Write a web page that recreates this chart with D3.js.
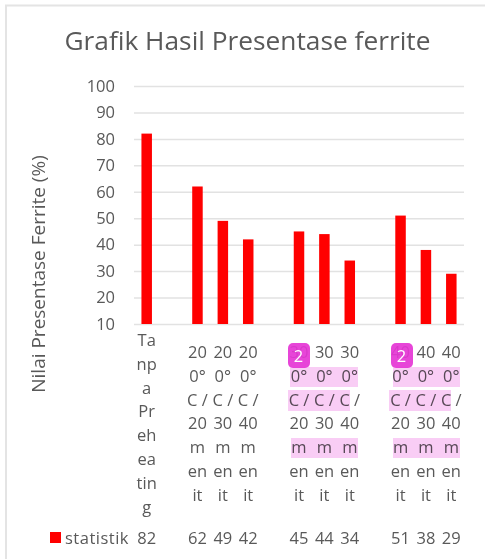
<!DOCTYPE html>
<html lang="en">
<head>
<meta charset="utf-8">
<title>Grafik Hasil Presentase ferrite</title>
<script src="https://cdn.jsdelivr.net/npm/d3@7"></script>
<style>
  html, body { margin: 0; padding: 0; background: #fff; }
  text { font-family: "Open Sans", "Noto Sans", sans-serif; fill: #595959; }
</style>
</head>
<body>
<script>
// one slot per category, blank slots are the gaps between the groups
var categories = ["a", "gap1", "b1", "b2", "b3", "gap2", "c1", "c2", "c3", "gap3", "d1", "d2", "d3"];
var values = [82, null, 62, 49, 42, null, 45, 44, 34, null, 51, 38, 29];
var labelLines = [
  ["Ta", "np", "a", "Pr", "eh", "ea", "tin", "g"],
  [],
  ["20", "0°", "C /", "20", "m", "en", "it"],
  ["20", "0°", "C /", "30", "m", "en", "it"],
  ["20", "0°", "C /", "40", "m", "en", "it"],
  [],
  ["30", "0°", "C /", "20", "m", "en", "it"],
  ["30", "0°", "C /", "30", "m", "en", "it"],
  ["30", "0°", "C /", "40", "m", "en", "it"],
  [],
  ["40", "0°", "C /", "20", "m", "en", "it"],
  ["40", "0°", "C /", "30", "m", "en", "it"],
  ["40", "0°", "C /", "40", "m", "en", "it"]
];
var yTicks = [10, 20, 30, 40, 50, 60, 70, 80, 90, 100];
var seriesName = "statistik";
var chartTitle = "Grafik Hasil Presentase ferrite";
var yTitle = "Nilai Presentase Ferrite (%)";

var w = 485, h = 559;
var svg = d3.select("body").append("svg").attr("width", w).attr("height", h).style("display", "block");

// chart frame, only top and left show in the crop
svg.append("path")
  .attr("d", "M6,559V5.5H485")
  .attr("fill", "none").attr("stroke", "#e4e4e4").attr("stroke-width", 2);

var xScale = d3.scaleBand().domain(categories).range([134, 464]);
var yScale = d3.scaleLinear().domain([10, 100]).range([324, 86]);

svg.append("text").attr("x", 247.5).attr("y", 50)
  .attr("text-anchor", "middle").style("font-size", "26.3px")
  .text(chartTitle);

svg.append("text")
  .attr("transform", "translate(45,274) rotate(-90)")
  .attr("text-anchor", "middle").style("font-size", "19px")
  .text(yTitle);

// y axis with gridlines
var yAxis = d3.axisLeft(yScale).tickValues(yTicks).tickSize(-330).tickPadding(19);
var yG = svg.append("g").attr("transform", "translate(134,0)").call(yAxis);
yG.select(".domain").remove();
yG.selectAll(".tick line").attr("stroke", "#e2e2e2").attr("stroke-width", 1.5);
yG.selectAll(".tick text").style("font-size", "16.5px").attr("fill", null);
yG.attr("font-family", null).attr("font-size", null);

// bars
var barWidth = 10.5;
svg.selectAll("rect.bar")
  .data(categories.map(function(c, i) { return { c: c, v: values[i] }; }).filter(function(d) { return d.v !== null; }))
  .enter().append("rect")
  .attr("class", "bar")
  .attr("x", function(d) { return xScale(d.c) + xScale.bandwidth() / 2 - barWidth / 2; })
  .attr("y", function(d) { return yScale(d.v); })
  .attr("width", barWidth)
  .attr("height", function(d) { return yScale(10) - yScale(d.v); })
  .attr("fill", "#ff0000");

// wrapped category labels
var lineStep = 23.8;
categories.forEach(function(c, i) {
  var lines = labelLines[i];
  var top = lines.length === 8 ? 346 : 358;
  lines.forEach(function(t, j) {
    svg.append("text")
      .attr("x", xScale(c) + xScale.bandwidth() / 2)
      .attr("y", top + j * lineStep)
      .attr("text-anchor", "middle")
      .style("font-size", "16.5px")
      .text(t);
  });
  // data table row
  if (values[i] !== null) {
    svg.append("text")
      .attr("x", xScale(c) + xScale.bandwidth() / 2)
      .attr("y", 544)
      .attr("text-anchor", "middle")
      .style("font-size", "16.5px")
      .text(values[i]);
  }
});

// pink selection highlights, multiplied over the labels so the text stays visible
var highlights = [
  [290, 367, 68, 20], [288, 390, 62, 21], [291, 438, 67, 20],
  [393, 367, 67, 20], [389, 390, 62, 21], [393, 438, 67, 20]
];
svg.append("g").style("mix-blend-mode", "multiply")
  .selectAll("rect").data(highlights).enter().append("rect")
  .attr("x", function(d) { return d[0]; })
  .attr("y", function(d) { return d[1]; })
  .attr("width", function(d) { return d[2]; })
  .attr("height", function(d) { return d[3]; })
  .attr("fill", "#f9cdf5");

// legend key in the data table
svg.append("rect").attr("x", 50).attr("y", 532).attr("width", 11).attr("height", 11).attr("fill", "#ff0000");
svg.append("text").attr("x", 65).attr("y", 544).style("font-size", "16.5px").style("letter-spacing", "0.5px").text(seriesName);

// the two magenta badges, the number under them still shows through
[[288, 343], [391, 343]].forEach(function(p) {
  svg.append("rect").attr("x", p[0]).attr("y", p[1]).attr("width", 22).attr("height", 25).attr("rx", 5)
    .attr("fill", "#e535d5").attr("fill-opacity", 0.92);
  svg.append("text").attr("x", p[0] + 10.5).attr("y", p[1] + 18.5)
    .attr("text-anchor", "middle").style("font-size", "16.5px").style("fill", "#fff").text("2");
});
</script>
</body>
</html>
